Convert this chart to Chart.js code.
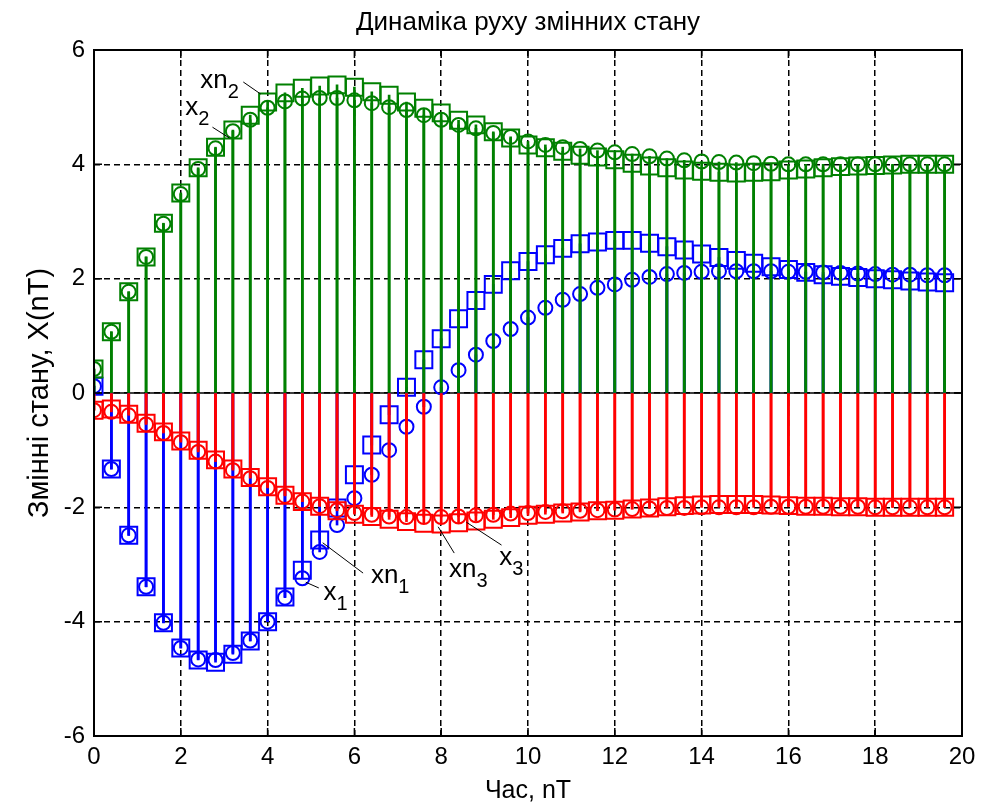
<!DOCTYPE html>
<html><head><meta charset="utf-8">
<script src="https://cdn.jsdelivr.net/npm/chart.js@4.4.0/dist/chart.umd.min.js"></script>
<style>html,body{margin:0;padding:0;background:#fff;overflow:hidden}#wrap{width:988px;height:809px;position:relative}</style>
</head><body><div id="wrap"><canvas id="c" width="988" height="809"></canvas></div>
<script>
const time = [0,0.4,0.8,1.2,1.6,2,2.4,2.8,3.2,3.6,4,4.4,4.8,5.2,5.6,6,6.4,6.8,7.2,7.6,8,8.4,8.8,9.2,9.6,10,10.4,10.8,11.2,11.6,12,12.4,12.8,13.2,13.6,14,14.4,14.8,15.2,15.6,16,16.4,16.8,17.2,17.6,18,18.4,18.8,19.2,19.6];
const x1 = [0.12,-1.33,-2.49,-3.39,-4.02,-4.46,-4.66,-4.67,-4.55,-4.33,-4.0,-3.58,-3.24,-2.78,-2.31,-1.84,-1.43,-1.0,-0.59,-0.24,0.1,0.4,0.67,0.91,1.12,1.32,1.49,1.63,1.73,1.84,1.9,1.98,2.03,2.08,2.1,2.12,2.13,2.13,2.13,2.13,2.12,2.12,2.11,2.1,2.09,2.08,2.07,2.07,2.06,2.06];
const xn1 = [0.12,-1.33,-2.49,-3.39,-4.02,-4.46,-4.67,-4.71,-4.57,-4.34,-4.0,-3.57,-3.1,-2.57,-2.01,-1.43,-0.91,-0.38,0.1,0.58,0.95,1.3,1.62,1.9,2.14,2.3,2.42,2.53,2.61,2.64,2.67,2.67,2.62,2.56,2.5,2.43,2.37,2.32,2.27,2.21,2.16,2.11,2.07,2.04,2.02,2.0,1.98,1.96,1.94,1.93];
const x2 = [0.42,1.07,1.77,2.38,2.96,3.48,3.92,4.28,4.58,4.78,4.99,5.1,5.15,5.16,5.16,5.12,5.07,5.0,4.95,4.86,4.78,4.69,4.63,4.55,4.48,4.4,4.34,4.3,4.27,4.24,4.21,4.18,4.14,4.1,4.07,4.05,4.04,4.03,4.02,4.01,4.0,4.0,4.0,4.0,4.0,4.0,4.0,4.0,4.0,4.0];
const xn2 = [0.42,1.07,1.77,2.38,2.97,3.5,3.94,4.3,4.6,4.86,5.09,5.25,5.33,5.37,5.39,5.35,5.27,5.21,5.09,4.98,4.9,4.77,4.69,4.57,4.46,4.34,4.29,4.23,4.16,4.13,4.08,4.02,3.97,3.94,3.9,3.88,3.86,3.85,3.86,3.87,3.9,3.92,3.94,3.96,3.97,3.98,3.99,4.0,4.0,4.0];
const x3 = [-0.3,-0.33,-0.39,-0.55,-0.7,-0.86,-1.03,-1.2,-1.35,-1.49,-1.66,-1.8,-1.9,-1.98,-2.05,-2.1,-2.13,-2.16,-2.17,-2.17,-2.17,-2.16,-2.14,-2.13,-2.11,-2.1,-2.08,-2.07,-2.06,-2.05,-2.04,-2.03,-2.02,-2.01,-2.01,-2.0,-2.0,-2.0,-2.0,-1.99,-1.99,-1.99,-1.99,-1.99,-1.99,-2.0,-2.0,-2.0,-2.0,-2.0];
const xn3 = [-0.3,-0.28,-0.37,-0.53,-0.68,-0.84,-1.0,-1.17,-1.33,-1.48,-1.64,-1.79,-1.9,-1.98,-2.06,-2.12,-2.16,-2.21,-2.25,-2.28,-2.29,-2.27,-2.24,-2.21,-2.18,-2.14,-2.12,-2.1,-2.08,-2.06,-2.05,-2.03,-2.01,-1.99,-1.97,-1.96,-1.95,-1.95,-1.95,-1.96,-1.97,-1.98,-1.98,-1.99,-1.99,-2.0,-2.0,-2.0,-2.0,-2.0];
const xTicks = [0,2,4,6,8,10,12,14,16,18,20];
const yTicks = [-6,-4,-2,0,2,4,6];
const titleText = 'Динаміка руху змінних стану';
const xLabel = 'Час, nT';
const yLabel = 'Змінні стану, X(nT)';
// annotation labels: text anchor and leader line in data units
const notes = [
  {main:'xn', sub:'2', t:2.45, v:5.34, l:[3.44,5.44,3.84,5.23]},
  {main:'x',  sub:'2', t:2.10, v:4.86, l:[2.73,4.65,3.12,4.46]},
  {main:'xn', sub:'1', t:6.38, v:-3.32, l:[6.20,-3.15,5.27,-2.62]},
  {main:'x',  sub:'1', t:5.29, v:-3.62, l:[5.18,-3.41,4.88,-3.31]},
  {main:'xn', sub:'3', t:8.18, v:-3.22, l:[8.30,-2.80,7.93,-2.34]},
  {main:'x',  sub:'3', t:9.34, v:-3.01, l:[9.39,-2.66,8.58,-2.26]}
];

const FONT = "'Liberation Sans Narrow','Arial Narrow','Liberation Sans',Arial,sans-serif";
const BLUE='#0000ff', GREEN='#008000', RED='#ff0000';
const pts = vals => time.map((t,i)=>({x:t,y:vals[i]}));
const stem = (vals,color,order) => ({type:'bar', data:pts(vals), backgroundColor:color, borderWidth:0, barThickness:2, grouped:false, order});
const marks = (vals,color,style,r,order) => ({type:'scatter', data:pts(vals), pointStyle:style, pointRadius:r, pointHoverRadius:r, borderColor:color, backgroundColor:'rgba(0,0,0,0)', pointBorderWidth:2, showLine:false, order});

const deco = {
  id:'deco',
  beforeDatasetsDraw(chart){
    const {ctx, chartArea:a, scales:{y}} = chart;
    const y0 = y.getPixelForValue(0);
    ctx.save(); ctx.strokeStyle='#000'; ctx.lineWidth=1.5;
    ctx.beginPath(); ctx.moveTo(a.left,y0); ctx.lineTo(a.right,y0); ctx.stroke(); ctx.restore();
  },
  afterDatasetsDraw(chart){
    const {ctx, chartArea:a, scales:{x,y}} = chart;
    ctx.save();
    ctx.strokeStyle='#000'; ctx.lineWidth=2;
    ctx.strokeRect(a.left,a.top,a.right-a.left,a.bottom-a.top);
    ctx.lineWidth=1.5;
    const L=8;
    ctx.beginPath();
    xTicks.forEach(t=>{const px=x.getPixelForValue(t); ctx.moveTo(px,a.bottom); ctx.lineTo(px,a.bottom-L); ctx.moveTo(px,a.top); ctx.lineTo(px,a.top+L);});
    yTicks.forEach(v=>{const py=y.getPixelForValue(v); ctx.moveTo(a.left,py); ctx.lineTo(a.left+L,py); ctx.moveTo(a.right,py); ctx.lineTo(a.right-L,py);});
    ctx.stroke();
    // annotations
    ctx.lineWidth=1; ctx.fillStyle='#000';
    notes.forEach(n=>{
      ctx.beginPath();
      ctx.moveTo(x.getPixelForValue(n.l[0]), y.getPixelForValue(n.l[1]));
      ctx.lineTo(x.getPixelForValue(n.l[2]), y.getPixelForValue(n.l[3]));
      ctx.stroke();
      const px=x.getPixelForValue(n.t), py=y.getPixelForValue(n.v);
      ctx.textBaseline='alphabetic'; ctx.textAlign='left';
      ctx.font="26px "+FONT;
      ctx.fillText(n.main,px,py);
      const w=ctx.measureText(n.main).width;
      ctx.font="20px "+FONT;
      ctx.fillText(n.sub,px+w,py+10);
    });
    ctx.restore();
  }
};

new Chart(document.getElementById('c'), {
  type:'scatter',
  data:{datasets:[
    marks(xn3,RED,'rect',12,1), marks(x3,RED,'circle',7,2), stem(xn3,RED,3), stem(x3,RED,3),
    marks(xn2,GREEN,'rect',12,4), marks(x2,GREEN,'circle',7,5), stem(xn2,GREEN,6), stem(x2,GREEN,6),
    marks(xn1,BLUE,'rect',12,7), marks(x1,BLUE,'circle',7,8), stem(xn1,BLUE,9), stem(x1,BLUE,9)
  ]},
  options:{
    responsive:false, animation:false, devicePixelRatio:1,
    layout:{padding:{left:0,right:26,top:0,bottom:0}},
    plugins:{
      legend:{display:false}, tooltip:{enabled:false},
      title:{display:true, text:titleText, fullSize:false, color:'#000', font:{family:FONT,size:26,weight:'normal'}, padding:{top:7,bottom:11.8}}
    },
    scales:{
      x:{type:'linear', min:0, max:20, offset:false,
        afterBuildTicks:s=>{s.ticks=xTicks.map(v=>({value:v}));},
        ticks:{color:'#000', font:{family:FONT,size:24}, padding:7, maxRotation:0, autoSkip:false},
        grid:{color:'#000', lineWidth:1.5, drawTicks:false, offset:false},
        border:{display:false, dash:[6,4]},
        title:{display:true, text:xLabel, color:'#000', font:{family:FONT,size:25}, padding:{top:0,bottom:3}},
        afterFit:s=>{s.height=73;}
      },
      y:{type:'linear', min:-6, max:6,
        afterBuildTicks:s=>{s.ticks=yTicks.map(v=>({value:v}));},
        ticks:{color:'#000', font:{family:FONT,size:24}, padding:9},
        grid:{color:'#000', lineWidth:1.5, drawTicks:false, offset:false},
        border:{display:false, dash:[6,4]},
        title:{display:true, text:yLabel, color:'#000', font:{family:FONT,size:29}, padding:{top:23,bottom:0}},
        afterFit:s=>{s.width=94;}
      }
    }
  },
  plugins:[deco]
});
</script></body></html>
